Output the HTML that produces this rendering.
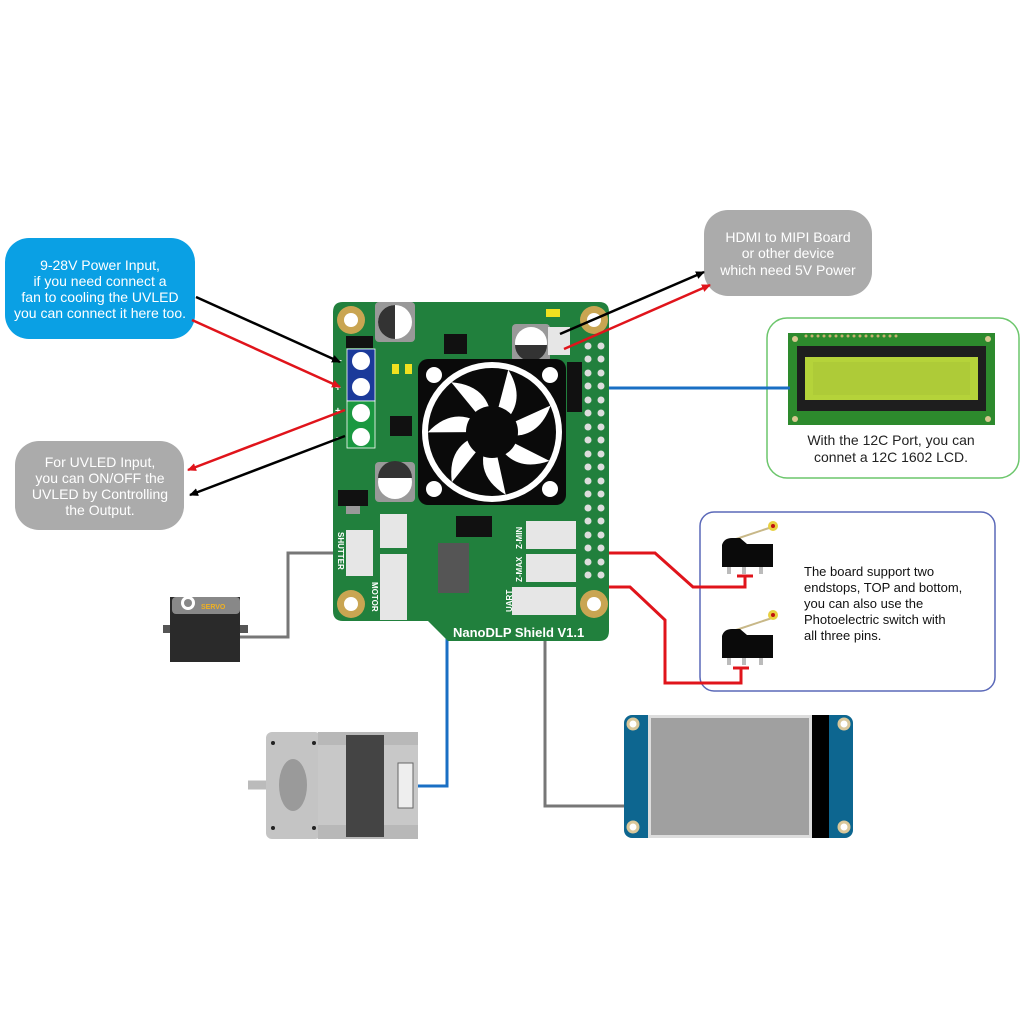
<!DOCTYPE html>
<html><head><meta charset="utf-8"><style>
html,body{margin:0;padding:0;background:#fff}
svg{display:block}
text{font-family:"Liberation Sans",sans-serif}
</style></head><body>
<svg width="1024" height="1024" viewBox="0 0 1024 1024" xmlns="http://www.w3.org/2000/svg">
<defs>
<marker id="ab" markerWidth="10" markerHeight="10" refX="8" refY="5" orient="auto" markerUnits="userSpaceOnUse"><path d="M0,1 L9,5 L0,9 Z" fill="#000"/></marker>
<marker id="ar" markerWidth="10" markerHeight="10" refX="8" refY="5" orient="auto" markerUnits="userSpaceOnUse"><path d="M0,1 L9,5 L0,9 Z" fill="#e0141b"/></marker>
</defs>

<!-- callouts -->
<rect x="5" y="238" width="190" height="101" rx="24" fill="#0aa0e4"/>
<g fill="#fff" font-size="14" text-anchor="middle">
<text x="100" y="270">9-28V Power Input,</text>
<text x="100" y="286">if you need connect a</text>
<text x="100" y="302">fan to cooling the UVLED</text>
<text x="100" y="318">you can connect it here too.</text>
</g>
<rect x="15" y="441" width="169" height="89" rx="24" fill="#ababab"/>
<g fill="#fff" font-size="14" text-anchor="middle">
<text x="100" y="467">For UVLED Input,</text>
<text x="100" y="483">you can ON/OFF the</text>
<text x="100" y="499">UVLED by Controlling</text>
<text x="100" y="515">the Output.</text>
</g>
<rect x="704" y="210" width="168" height="86" rx="24" fill="#ababab"/>
<g fill="#fff" font-size="14" text-anchor="middle">
<text x="788" y="242">HDMI to MIPI Board</text>
<text x="788" y="258">or other device</text>
<text x="788" y="275">which need 5V Power</text>
</g>

<!-- LCD box -->
<rect x="767" y="318" width="252" height="160" rx="20" fill="#fff" stroke="#6cc66c" stroke-width="1.5"/>
<rect x="788" y="333" width="207" height="92" fill="#2d8a2d"/>
<g fill="#d8c890"><circle cx="795" cy="339" r="3"/><circle cx="988" cy="339" r="3"/><circle cx="795" cy="419" r="3"/><circle cx="988" cy="419" r="3"/></g>
<g fill="#c8b070">
<circle cx="806" cy="336" r="1.5"/><circle cx="812" cy="336" r="1.5"/><circle cx="818" cy="336" r="1.5"/><circle cx="824" cy="336" r="1.5"/><circle cx="830" cy="336" r="1.5"/><circle cx="836" cy="336" r="1.5"/><circle cx="842" cy="336" r="1.5"/><circle cx="848" cy="336" r="1.5"/><circle cx="854" cy="336" r="1.5"/><circle cx="860" cy="336" r="1.5"/><circle cx="866" cy="336" r="1.5"/><circle cx="872" cy="336" r="1.5"/><circle cx="878" cy="336" r="1.5"/><circle cx="884" cy="336" r="1.5"/><circle cx="890" cy="336" r="1.5"/><circle cx="896" cy="336" r="1.5"/></g>
<rect x="797" y="346" width="189" height="65" fill="#1e1e1e"/>
<rect x="805" y="357" width="173" height="43" fill="#b5d33a"/>
<rect x="813" y="362" width="157" height="33" fill="#aecb38"/>
<g fill="#222" font-size="14" text-anchor="middle">
<text x="891" y="445">With the 12C Port, you can</text>
<text x="891" y="462">connet a 12C 1602 LCD.</text>
</g>

<!-- switch box -->
<rect x="700" y="512" width="295" height="179" rx="14" fill="#fff" stroke="#5a68b8" stroke-width="1.5"/>
<g fill="#111" font-size="13">
<text x="804" y="576">The board support two</text>
<text x="804" y="592">endstops, TOP and bottom,</text>
<text x="804" y="608">you can also use the</text>
<text x="804" y="624">Photoelectric switch with</text>
<text x="804" y="640">all three pins.</text>
</g>
<g>
<line x1="730" y1="541" x2="772" y2="527" stroke="#c8b888" stroke-width="2"/>
<circle cx="773" cy="526" r="5" fill="#e8d040"/><circle cx="773" cy="526" r="2" fill="#c01010"/>
<path d="M722,545 Q724,538 732,538 L740,538 L747,544 L773,544 L773,567 L722,567 Z" fill="#0a0a0a"/>
<rect x="727" y="567" width="4" height="7" fill="#bbb"/><rect x="742" y="567" width="4" height="7" fill="#bbb"/><rect x="759" y="567" width="4" height="7" fill="#bbb"/>
</g>
<g>
<line x1="730" y1="632" x2="772" y2="618" stroke="#c8b888" stroke-width="2"/>
<circle cx="773" cy="615" r="5" fill="#e8d040"/><circle cx="773" cy="615" r="2" fill="#c01010"/>
<path d="M722,636 Q724,629 732,629 L740,629 L747,635 L773,635 L773,658 L722,658 Z" fill="#0a0a0a"/>
<rect x="727" y="658" width="4" height="7" fill="#bbb"/><rect x="742" y="658" width="4" height="7" fill="#bbb"/><rect x="759" y="658" width="4" height="7" fill="#bbb"/>
</g>

<!-- wires -->
<g fill="none" stroke-width="3">
<polyline points="345,553 288,553 288,637 237,637" stroke="#777"/>
<polyline points="401,584 432,584 447,600 447,786 416,786" stroke="#1a6fc4"/>
<polyline points="545,620 545,806 625,806" stroke="#777"/>
<line x1="573" y1="388" x2="790" y2="388" stroke="#1a6fc4"/>
<polyline points="555,548 555,553 655,553 693,587 745,587 745,576" stroke="#e0141b"/>
<line x1="737" y1="576" x2="753" y2="576" stroke="#e0141b"/>
<polyline points="555,582 555,587 630,587 665,620 665,683 741,683 741,668" stroke="#e0141b"/>
<line x1="733" y1="668" x2="749" y2="668" stroke="#e0141b"/>
</g>

<!-- board -->
<path d="M343,302 L599,302 Q609,302 609,312 L609,631 Q609,641 599,641 L448,641 L428,621 L343,621 Q333,621 333,611 L333,312 Q333,302 343,302 Z" fill="#21803d"/>
<g fill="#c9a552"><circle cx="351" cy="320" r="14"/><circle cx="594" cy="320" r="14"/><circle cx="351" cy="604" r="14"/><circle cx="594" cy="604" r="14"/></g>
<g fill="#fff"><circle cx="351" cy="320" r="7"/><circle cx="594" cy="320" r="7"/><circle cx="351" cy="604" r="7"/><circle cx="594" cy="604" r="7"/></g>
<rect x="375" y="302" width="40" height="40" rx="4" fill="#999"/><circle cx="395" cy="322" r="17" fill="#fff"/><path d="M395,305 A17,17 0 0 0 395,339 Z" fill="#333"/>
<rect x="512" y="324" width="38" height="38" rx="4" fill="#999"/><circle cx="531" cy="343" r="16" fill="#fff"/><path d="M515,345 A16,16 0 0 0 547,345 Z" fill="#333"/>
<rect x="375" y="462" width="40" height="40" rx="4" fill="#999"/><circle cx="395" cy="482" r="17" fill="#fff"/><path d="M378,478 A17,17 0 0 1 412,478 Z" fill="#333"/>
<rect x="444" y="334" width="23" height="20" fill="#111"/>
<rect x="390" y="416" width="22" height="20" fill="#111"/>
<rect x="338" y="490" width="30" height="16" fill="#111"/><rect x="346" y="506" width="14" height="8" fill="#999"/>
<rect x="438" y="543" width="31" height="50" fill="#555"/>
<rect x="456" y="516" width="36" height="21" fill="#111"/>
<rect x="346" y="336" width="27" height="12" fill="#111"/>
<rect x="347" y="349" width="28" height="52" fill="#1b3a9a" stroke="#fff" stroke-width="0.8"/>
<rect x="347" y="401" width="28" height="47" fill="#1a9840" stroke="#fff" stroke-width="0.8"/>
<g fill="#fff"><circle cx="361" cy="361" r="9"/><circle cx="361" cy="387" r="9"/><circle cx="361" cy="413" r="9"/><circle cx="361" cy="437" r="9"/></g>
<g fill="#fff" font-size="10" font-weight="bold"><text x="336" y="364">−</text><text x="335" y="391">+</text><text x="335" y="414">+</text><text x="336" y="441">−</text></g>
<rect x="392" y="364" width="7" height="10" fill="#f0e020"/><rect x="405" y="364" width="7" height="10" fill="#f0e020"/>
<!-- fan -->
<rect x="418" y="359" width="148" height="146" rx="10" fill="#0a0a0a"/>
<g fill="#fff"><circle cx="434" cy="375" r="8"/><circle cx="550" cy="375" r="8"/><circle cx="434" cy="489" r="8"/><circle cx="550" cy="489" r="8"/></g>
<circle cx="492" cy="432" r="70" fill="#fff"/>
<circle cx="492" cy="432" r="64" fill="#0a0a0a"/>
<g fill="#fff">
<path d="M492,432 L486,368 Q520,395 492,432Z" transform="rotate(20 492 432)"/>
<path d="M492,432 L486,368 Q520,395 492,432Z" transform="rotate(71 492 432)"/>
<path d="M492,432 L486,368 Q520,395 492,432Z" transform="rotate(122 492 432)"/>
<path d="M492,432 L486,368 Q520,395 492,432Z" transform="rotate(173 492 432)"/>
<path d="M492,432 L486,368 Q520,395 492,432Z" transform="rotate(224 492 432)"/>
<path d="M492,432 L486,368 Q520,395 492,432Z" transform="rotate(275 492 432)"/>
<path d="M492,432 L486,368 Q520,395 492,432Z" transform="rotate(326 492 432)"/>
</g>
<circle cx="492" cy="432" r="26" fill="#0a0a0a"/>
<rect x="567" y="362" width="15" height="50" fill="#111"/>
<g fill="#ddd">
<circle cx="588" cy="346" r="3.5"/><circle cx="601" cy="346" r="3.5"/><circle cx="588" cy="359" r="3.5"/><circle cx="601" cy="359" r="3.5"/><circle cx="588" cy="373" r="3.5"/><circle cx="601" cy="373" r="3.5"/><circle cx="588" cy="386" r="3.5"/><circle cx="601" cy="386" r="3.5"/><circle cx="588" cy="400" r="3.5"/><circle cx="601" cy="400" r="3.5"/><circle cx="588" cy="413" r="3.5"/><circle cx="601" cy="413" r="3.5"/><circle cx="588" cy="427" r="3.5"/><circle cx="601" cy="427" r="3.5"/><circle cx="588" cy="440" r="3.5"/><circle cx="601" cy="440" r="3.5"/><circle cx="588" cy="454" r="3.5"/><circle cx="601" cy="454" r="3.5"/><circle cx="588" cy="467" r="3.5"/><circle cx="601" cy="467" r="3.5"/><circle cx="588" cy="481" r="3.5"/><circle cx="601" cy="481" r="3.5"/><circle cx="588" cy="494" r="3.5"/><circle cx="601" cy="494" r="3.5"/><circle cx="588" cy="508" r="3.5"/><circle cx="601" cy="508" r="3.5"/><circle cx="588" cy="521" r="3.5"/><circle cx="601" cy="521" r="3.5"/><circle cx="588" cy="535" r="3.5"/><circle cx="601" cy="535" r="3.5"/><circle cx="588" cy="548" r="3.5"/><circle cx="601" cy="548" r="3.5"/><circle cx="588" cy="562" r="3.5"/><circle cx="601" cy="562" r="3.5"/><circle cx="588" cy="575" r="3.5"/><circle cx="601" cy="575" r="3.5"/>
</g>
<g fill="#e6e6e6">
<rect x="548" y="327" width="22" height="28"/>
<rect x="346" y="530" width="27" height="46"/>
<rect x="380" y="514" width="27" height="34"/>
<rect x="380" y="554" width="27" height="66"/>
<rect x="526" y="521" width="50" height="28"/>
<rect x="526" y="554" width="50" height="28"/>
<rect x="512" y="587" width="64" height="28"/>
</g>
<rect x="546" y="309" width="14" height="8" fill="#f0e020"/>
<g fill="#fff" font-size="8" font-weight="bold">
<text transform="translate(338,532) rotate(90)">SHUTTER</text>
<text transform="translate(372,582) rotate(90)">MOTOR</text>
<text transform="translate(512,612) rotate(-90)">UART</text>
<text transform="translate(522,582) rotate(-90)">Z-MAX</text>
<text transform="translate(522,549) rotate(-90)">Z-MIN</text>
</g>
<text x="453" y="637" fill="#fff" font-size="13" font-weight="bold">NanoDLP Shield V1.1</text>

<g stroke-width="2.5" fill="none">
<line x1="196" y1="297" x2="340" y2="362" stroke="#000" marker-end="url(#ab)"/>
<line x1="192" y1="320" x2="340" y2="387" stroke="#e0141b" marker-end="url(#ar)"/>
<line x1="345" y1="410" x2="188" y2="470" stroke="#e0141b" marker-end="url(#ar)"/>
<line x1="345" y1="436" x2="190" y2="495" stroke="#000" marker-end="url(#ab)"/>
<line x1="560" y1="334" x2="704" y2="272" stroke="#000" marker-end="url(#ab)"/>
<line x1="564" y1="349" x2="710" y2="285" stroke="#e0141b" marker-end="url(#ar)"/>
</g>

<!-- servo -->
<rect x="163" y="625" width="85" height="8" fill="#555"/>
<rect x="170" y="597" width="70" height="65" fill="#2a2a2a"/>
<rect x="172" y="597" width="68" height="17" rx="4" fill="#888"/>
<circle cx="188" cy="603" r="7" fill="#fff"/><circle cx="188" cy="603" r="4" fill="#888"/>
<text x="201" y="609" font-size="7" font-weight="bold" fill="#f0b020">SERVO</text>

<!-- stepper -->
<line x1="248" y1="785" x2="298" y2="785" stroke="#bbb" stroke-width="9"/>
<rect x="266" y="732" width="55" height="107" rx="6" fill="#c4c4c4"/>
<ellipse cx="293" cy="785" rx="14" ry="26" fill="#9a9a9a"/>
<g fill="#222"><circle cx="273" cy="743" r="2"/><circle cx="314" cy="743" r="2"/><circle cx="273" cy="828" r="2"/><circle cx="314" cy="828" r="2"/></g>
<rect x="318" y="732" width="100" height="107" fill="#b8b8b8"/>
<rect x="318" y="745" width="100" height="80" fill="#c8c8c8"/>
<rect x="346" y="735" width="38" height="102" fill="#444"/>
<rect x="398" y="763" width="15" height="45" fill="#eee" stroke="#666"/>

<!-- display -->
<rect x="624" y="715" width="229" height="123" rx="8" fill="#0d6690"/>
<rect x="648" y="715" width="164" height="123" fill="#ddd"/>
<rect x="651" y="718" width="158" height="117" fill="#a0a0a0"/>
<rect x="812" y="715" width="17" height="123" fill="#000"/>
<g fill="#fff" stroke="#d9c79a" stroke-width="3"><circle cx="633" cy="724" r="5"/><circle cx="844" cy="724" r="5"/><circle cx="633" cy="827" r="5"/><circle cx="844" cy="827" r="5"/></g>
</svg>
</body></html>
